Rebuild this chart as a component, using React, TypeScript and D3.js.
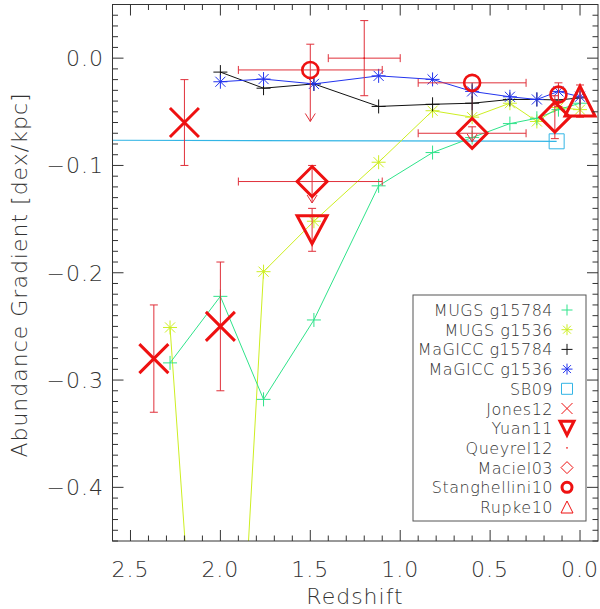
import React from 'react';
import * as d3 from 'd3';

// simulation snapshots
const zMUGS = [2.28, 2.0, 1.76, 1.48, 1.12, 0.82, 0.6, 0.39, 0.24, 0.12, 0.0];
const mugs15784 = [-0.284, -0.222, -0.318, -0.244, -0.119, -0.088, -0.074, -0.061, -0.056, -0.048, -0.042];
const mugs1536 = [-0.251, -0.92, -0.199, -0.152, -0.097, -0.049, -0.055, -0.042, -0.059, -0.046, -0.048];
const zMaGICC = [2.0, 1.76, 1.48, 1.12, 0.82, 0.6, 0.39, 0.24, 0.12, 0.0];
const magicc15784 = [-0.013, -0.028, -0.024, -0.045, -0.043, -0.042, -0.0385, -0.0385, -0.039, -0.037];
const magicc1536 = [-0.022, -0.0195, -0.024, -0.0165, -0.0198, -0.031, -0.036, -0.0385, -0.031, -0.036];

// observations
const sb09Z = [2.6, 0.13];
const sb09G = [-0.0765, -0.0775];
const jonesZ = [2.37, 2.2, 2.0];
const jonesG = [-0.28, -0.06, -0.25];
const jonesErr = [0.05, 0.04, 0.06];
const yuanZ = [1.49];
const yuanG = [-0.16];
const yuanErr = [0.02];
const queyrelZ = [1.2];
const queyrelG = [0.0];
const queyrelErr = [0.035];
const queyrelZLo = [1.0];
const queyrelZHi = [1.4];
const macielZ = [1.49, 0.6, 0.14];
const macielG = [-0.115, -0.07, -0.055];
const macielTop = [-0.1, -0.064, -0.035];
const macielBot = [-0.135, -0.078, -0.075];
const macielArrow = [true, true, false];
const macielZLo = [1.1, 0.3, null];
const macielZHi = [1.9, 0.9, null];
const stangZ = [1.5, 0.6, 0.12];
const stangG = [-0.011, -0.023, -0.034];
const stangTop = [0.013, null, -0.023];
const stangBot = [-0.059, -0.058, -0.045];
const stangArrow = [true, false, false];
const stangZLo = [1.1, 0.3, null];
const stangZHi = [1.9, 0.9, null];
const rupkeZ = [0.0];
const rupkeG = [-0.04];
const rupkeErr = [0.015];

const xMajor = [2.5, 2.0, 1.5, 1.0, 0.5, 0.0];
const yMajor = [0.0, -0.1, -0.2, -0.3, -0.4];

const legendNames = ['MUGS g15784', 'MUGS g1536', 'MaGICC g15784', 'MaGICC g1536', 'SB09', 'Jones12', 'Yuan11', 'Queyrel12', 'Maciel03', 'Stanghellini10', 'Rupke10'];

const GREEN = '#2fe38a';
const YELLOW = '#cdee22';
const BLUE = '#2233ee';
const CYAN = '#33b5e5';
const RED = '#ee1111';
const ERR = '#e0303a';
const INK = '#333';
const FONT = '"DejaVu Sans", sans-serif';

const W = 600, H = 609;
const x = d3.scaleLinear().domain([2.6, -0.1]).range([112.5, 598]);
const y = d3.scaleLinear().domain([-0.45, 0.05]).range([541, 4.5]);

const plus = (s: number) => `M${-s},0H${s}M0,${-s}V${s}`;
const cross = (s: number) => `M${-s},${-s}L${s},${s}M${-s},${s}L${s},${-s}`;
const aster = (s: number) => plus(s) + cross(s * 0.72);
const square = (s: number) => `M${-s},${-s}H${s}V${s}H${-s}Z`;
const diamond = (s: number) => `M0,${-s}L${s},0L0,${s}L${-s},0Z`;
const triDown = (w: number, h: number) => `M${-w},${-h}H${w}L0,${h}Z`;
const triUp = (w: number, h: number) => `M0,${-h}L${w},${h}H${-w}Z`;

const VErr = ({ z, top, bot, arrow }: { z: number; top: number | null; bot: number; arrow?: boolean }) => {
  const cx = x(z);
  const y0 = top === null ? null : y(top);
  const y1 = y(bot);
  return (
    <g stroke={ERR} strokeWidth={1} fill="none">
      <line x1={cx} x2={cx} y1={y0 === null ? y1 - 20 : y0} y2={y1} />
      {y0 !== null && <line x1={cx - 4} x2={cx + 4} y1={y0} y2={y0} />}
      {arrow ? <path d={`M${cx - 5},${y1 - 8}L${cx},${y1}L${cx + 5},${y1 - 8}`} /> : <line x1={cx - 4} x2={cx + 4} y1={y1} y2={y1} />}
    </g>
  );
};

const HErr = ({ lo, hi, g }: { lo: number; hi: number; g: number }) => {
  const cy = y(g);
  return (
    <g stroke={ERR} strokeWidth={1}>
      <line x1={x(hi)} x2={x(lo)} y1={cy} y2={cy} />
      <line x1={x(hi)} x2={x(hi)} y1={cy - 4} y2={cy + 4} />
      <line x1={x(lo)} x2={x(lo)} y1={cy - 4} y2={cy + 4} />
    </g>
  );
};

const Ticks = () => {
  const xMinor = d3.range(26, -1, -1).map(d => d / 10).filter(d => !xMajor.some(m => Math.abs(m - d) < 1e-6));
  const yAll = d3.range(-45, 6).map(d => d / 100);
  return (
    <g stroke={INK} strokeWidth={1}>
      {xMajor.map(d => (
        <g key={'xm' + d}>
          <line x1={x(d)} x2={x(d)} y1={541} y2={530} />
          <line x1={x(d)} x2={x(d)} y1={4.5} y2={15.5} />
        </g>
      ))}
      {xMinor.map(d => (
        <g key={'xn' + d}>
          <line x1={x(d)} x2={x(d)} y1={541} y2={535.5} />
          <line x1={x(d)} x2={x(d)} y1={4.5} y2={10} />
        </g>
      ))}
      {yAll.map(d => {
        const major = Math.round(d * 100) % 10 === 0;
        const len = major ? 11 : 5.5;
        return (
          <g key={'y' + d}>
            <line x1={112.5} x2={112.5 + len} y1={y(d)} y2={y(d)} />
            <line x1={598} x2={598 - len} y1={y(d)} y2={y(d)} />
          </g>
        );
      })}
    </g>
  );
};

const LegendSymbol = ({ i, cx, cy }: { i: number; cx: number; cy: number }) => {
  const t = `translate(${cx},${cy})`;
  switch (i) {
    case 0: return <path transform={t} d={plus(5.5)} stroke={GREEN} fill="none" />;
    case 1: return <path transform={t} d={aster(5.5)} stroke={YELLOW} fill="none" />;
    case 2: return <path transform={t} d={plus(5.5)} stroke="#111" fill="none" />;
    case 3: return <path transform={t} d={aster(5.5)} stroke={BLUE} fill="none" />;
    case 4: return <path transform={t} d={square(5.5)} stroke={CYAN} fill="none" />;
    case 5: return <path transform={t} d={cross(5.5)} stroke={RED} fill="none" />;
    case 6: return <path transform={t} d={triDown(7, 7)} stroke={RED} strokeWidth={3} fill="none" />;
    case 7: return <circle cx={cx} cy={cy} r={0.8} fill={RED} />;
    case 8: return <path transform={t} d={diamond(6)} stroke={RED} fill="none" />;
    case 9: return <circle cx={cx} cy={cy} r={5} stroke={RED} strokeWidth={3} fill="none" />;
    default: return <path transform={t} d={triUp(6, 6)} stroke={RED} fill="none" />;
  }
};

export default function App() {
  const line = d3.line<[number, number]>().x(d => x(d[0])).y(d => y(d[1]));
  const pairs = (zs: number[], gs: number[]) => zs.map((z, i) => [z, gs[i]] as [number, number]);

  return (
    <svg width={W} height={H} style={{ position: 'absolute', left: 0, top: 0, background: '#fff' }} fontFamily={FONT}>
      <defs>
        <clipPath id="plotClip">
          <rect x={112.5} y={4.5} width={598 - 112.5} height={541 - 4.5} />
        </clipPath>
      </defs>

      <g clipPath="url(#plotClip)">
        {/* SB09 */}
        <path d={line(pairs(sb09Z, sb09G)) || ''} stroke={CYAN} strokeWidth={1.2} fill="none" />
        <path transform={`translate(${x(sb09Z[1])},${y(sb09G[1])})`} d={square(7.5)} stroke={CYAN} fill="none" />

        {/* simulations */}
        <path d={line(pairs(zMUGS, mugs1536)) || ''} stroke={YELLOW} fill="none" />
        {zMUGS.map((z, i) => (
          <path key={'ya' + i} transform={`translate(${x(z)},${y(mugs1536[i])})`} d={aster(7)} stroke={YELLOW} fill="none" />
        ))}
        <path d={line(pairs(zMUGS, mugs15784)) || ''} stroke={GREEN} fill="none" />
        {zMUGS.map((z, i) => (
          <path key={'gp' + i} transform={`translate(${x(z)},${y(mugs15784[i])})`} d={plus(7)} stroke={GREEN} fill="none" />
        ))}
        <path d={line(pairs(zMaGICC, magicc15784)) || ''} stroke="#111" fill="none" />
        {zMaGICC.map((z, i) => (
          <path key={'kp' + i} transform={`translate(${x(z)},${y(magicc15784[i])})`} d={plus(7)} stroke="#111" fill="none" />
        ))}
        <path d={line(pairs(zMaGICC, magicc1536)) || ''} stroke={BLUE} fill="none" />
        {zMaGICC.map((z, i) => (
          <path key={'ba' + i} transform={`translate(${x(z)},${y(magicc1536[i])})`} d={aster(7)} stroke={BLUE} fill="none" />
        ))}

        {/* Jones12 */}
        {jonesZ.map((z, i) => (
          <g key={'j' + i}>
            <VErr z={z} top={jonesG[i] + jonesErr[i]} bot={jonesG[i] - jonesErr[i]} />
            <path transform={`translate(${x(z)},${y(jonesG[i])})`} d={cross(14.5)} stroke={RED} strokeWidth={3} fill="none" />
          </g>
        ))}

        {/* Queyrel12 */}
        {queyrelZ.map((z, i) => (
          <g key={'q' + i}>
            <HErr lo={queyrelZLo[i]} hi={queyrelZHi[i]} g={queyrelG[i]} />
            <VErr z={z} top={queyrelG[i] + queyrelErr[i]} bot={queyrelG[i] - queyrelErr[i]} />
            <circle cx={x(z)} cy={y(queyrelG[i])} r={0.8} fill={RED} />
          </g>
        ))}

        {/* Stanghellini10 */}
        {stangZ.map((z, i) => (
          <g key={'s' + i}>
            {stangZLo[i] !== null && <HErr lo={stangZLo[i] as number} hi={stangZHi[i] as number} g={stangG[i]} />}
            {stangTop[i] !== null
              ? <VErr z={z} top={stangTop[i]} bot={stangBot[i]} arrow={stangArrow[i]} />
              : <line x1={x(z)} x2={x(z)} y1={y(stangG[i])} y2={y(stangBot[i])} stroke="#552233" strokeWidth={1} />}
            <circle cx={x(z)} cy={y(stangG[i])} r={8} stroke={RED} strokeWidth={2.6} fill="none" />
          </g>
        ))}

        {/* Maciel03 */}
        {macielZ.map((z, i) => (
          <g key={'m' + i}>
            {macielZLo[i] !== null && <HErr lo={macielZLo[i] as number} hi={macielZHi[i] as number} g={macielG[i]} />}
            <VErr z={z} top={macielTop[i]} bot={macielBot[i]} arrow={macielArrow[i]} />
            <path transform={`translate(${x(z)},${y(macielG[i])})`} d={diamond(15)} stroke={RED} strokeWidth={3} fill="none" />
          </g>
        ))}

        {/* Yuan11 */}
        {yuanZ.map((z, i) => (
          <g key={'yu' + i}>
            <VErr z={z} top={yuanG[i] + yuanErr[i]} bot={yuanG[i] - yuanErr[i]} />
            <path transform={`translate(${x(z)},${y(yuanG[i])})`} d={triDown(15, 14)} stroke={RED} strokeWidth={3} fill="none" />
          </g>
        ))}

        {/* Rupke10 */}
        {rupkeZ.map((z, i) => (
          <g key={'r' + i}>
            <VErr z={z} top={rupkeG[i] + rupkeErr[i]} bot={rupkeG[i] - rupkeErr[i]} />
            <path transform={`translate(${x(z)},${y(rupkeG[i])})`} d={triUp(15, 15)} stroke={RED} strokeWidth={3} fill="none" />
          </g>
        ))}
      </g>

      {/* frame and ticks */}
      <rect x={112.5} y={4.5} width={598 - 112.5} height={541 - 4.5} fill="none" stroke={INK} strokeWidth={1} />
      <Ticks />

      <g fill={INK} fontSize={22} fontWeight={200}>
        {xMajor.map(d => (
          <text key={'xl' + d} x={x(d)} y={577} textAnchor="middle" letterSpacing={1}>{d.toFixed(1)}</text>
        ))}
        {yMajor.map(d => (
          <text key={'yl' + d} x={104} y={y(d) + 8} textAnchor="end" letterSpacing={1}>{(d < 0 ? '\u2212' : '') + Math.abs(d).toFixed(1)}</text>
        ))}
        <text x={355} y={604} textAnchor="middle" letterSpacing={1}>Redshift</text>
        <text transform="translate(27,275) rotate(-90)" textAnchor="middle" letterSpacing={1}>Abundance Gradient [dex/kpc]</text>
      </g>

      {/* legend */}
      <rect x={413} y={295} width={173} height={226} fill="#fff" stroke="#555" strokeWidth={1} />
      <g fill={INK} fontSize={16} fontWeight={200}>
        {legendNames.map((n, i) => (
          <g key={n}>
            <text x={553} y={310 + i * 19.7 + 6} textAnchor="end" letterSpacing={0.5}>{n}</text>
            <LegendSymbol i={i} cx={567} cy={310 + i * 19.7} />
          </g>
        ))}
      </g>
    </svg>
  );
}
